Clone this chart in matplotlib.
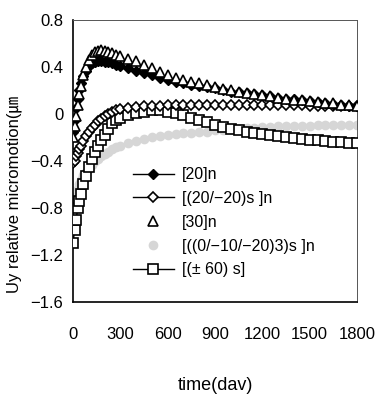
import matplotlib
matplotlib.use("Agg")
import matplotlib.pyplot as plt

plt.rcParams['font.family'] = ['Liberation Sans', 'Noto Sans CJK KR', 'DejaVu Sans']

# time axis (days) shared by every series
days = [0, 10, 20, 30, 40, 50, 65, 80, 100, 120, 140, 160, 180, 200, 225, 250, 275, 300,
        350, 400, 450, 500, 550, 600, 650, 700, 750, 800, 850, 900, 950, 1000,
        1050, 1100, 1150, 1200, 1250, 1300, 1350, 1400, 1450, 1500, 1550, 1600,
        1650, 1700, 1750, 1800]

# [20]n
uy_20 = [-0.15, -0.05, 0.05, 0.13, 0.20, 0.26, 0.32, 0.37, 0.41, 0.43, 0.445, 0.45, 0.45, 0.445,
         0.44, 0.43, 0.42, 0.41, 0.39, 0.37, 0.35, 0.33, 0.31, 0.29, 0.275, 0.26, 0.25, 0.24,
         0.23, 0.22, 0.205, 0.19, 0.185, 0.175, 0.17, 0.16, 0.15, 0.14, 0.13, 0.125, 0.115,
         0.11, 0.10, 0.095, 0.085, 0.08, 0.07, 0.065]

# [(20/-20)s]n
uy_20_m20 = [-0.42, -0.40, -0.36, -0.33, -0.30, -0.27, -0.23, -0.19, -0.15, -0.12, -0.09, -0.06,
             -0.04, -0.02, 0.0, 0.02, 0.03, 0.04, 0.05, 0.06, 0.065, 0.07, 0.07, 0.075, 0.075,
             0.075, 0.08, 0.08, 0.08, 0.08, 0.08, 0.08, 0.08, 0.08, 0.08, 0.08, 0.075, 0.075,
             0.075, 0.075, 0.075, 0.07, 0.07, 0.07, 0.07, 0.07, 0.07, 0.07]

# [30]n
uy_30 = [-0.20, -0.10, -0.02, 0.08, 0.17, 0.24, 0.33, 0.40, 0.46, 0.50, 0.53, 0.54, 0.545, 0.54,
         0.53, 0.52, 0.50, 0.49, 0.47, 0.45, 0.42, 0.39, 0.355, 0.33, 0.31, 0.29, 0.275, 0.26,
         0.245, 0.23, 0.215, 0.20, 0.19, 0.18, 0.17, 0.16, 0.15, 0.14, 0.13, 0.12, 0.115,
         0.11, 0.10, 0.095, 0.09, 0.08, 0.075, 0.07]

# [((0/-10/-20)3)s]n
uy_0_10_20 = [-0.90, -0.78, -0.70, -0.64, -0.60, -0.56, -0.52, -0.49, -0.46, -0.43, -0.40, -0.38,
              -0.36, -0.34, -0.32, -0.30, -0.285, -0.27, -0.25, -0.23, -0.21, -0.20, -0.19,
              -0.18, -0.17, -0.165, -0.16, -0.155, -0.15, -0.14, -0.135, -0.13, -0.125, -0.12,
              -0.115, -0.11, -0.11, -0.105, -0.105, -0.10, -0.10, -0.10, -0.095, -0.095, -0.09,
              -0.09, -0.09, -0.09]

# [(+-60)s]
uy_60 = [-1.10, -0.99, -0.90, -0.80, -0.74, -0.68, -0.60, -0.53, -0.45, -0.38, -0.32, -0.27,
         -0.22, -0.18, -0.13, -0.08, -0.05, -0.03, -0.01, 0.01, 0.02, 0.03, 0.03, 0.02, 0.01,
         -0.01, -0.03, -0.05, -0.07, -0.09, -0.11, -0.13, -0.14, -0.15, -0.16, -0.17, -0.18,
         -0.19, -0.20, -0.205, -0.21, -0.22, -0.225, -0.23, -0.235, -0.24, -0.245, -0.25]

x_ticks = [0, 300, 600, 900, 1200, 1500, 1800]
y_ticks = [-1.6, -1.2, -0.8, -0.4, 0, 0.4, 0.8]
y_tick_labels = ['−1.6', '−1.2', '−0.8', '−0.4', '0', '0.4', '0.8']

fig = plt.figure(figsize=(3.77, 3.96), dpi=100)
ax = fig.add_axes([0.1936, 0.2374, 0.7535, 0.7121])

ax.plot(days, uy_0_10_20, linestyle='none', marker='o', ms=7, mfc='#d6d6d6', mec='#d6d6d6',
        mew=0, label='[((0/−10/−20)3)s ]n', zorder=2)
ax.plot(days, uy_60, color='black', lw=1, marker='s', ms=7, mfc='white', mec='black',
        mew=1.2, label='[(± 60) s]', zorder=3)
ax.plot(days, uy_20_m20, color='black', lw=1, marker='D', ms=5.5, mfc='white', mec='black',
        mew=1.2, label='[(20/−20)s ]n', zorder=4)
ax.plot(days, uy_20, color='black', lw=1, marker='D', ms=5, mfc='black', mec='black',
        label='[20]n', zorder=5)
ax.plot(days, uy_30, linestyle='none', marker='^', ms=7, mfc='white', mec='black',
        mew=1.2, label='[30]n', zorder=6)

ax.set_xlim(0, 1800)
ax.set_ylim(-1.6, 0.8)
ax.set_xticks(x_ticks)
ax.set_yticks(y_ticks)
ax.set_yticklabels(y_tick_labels)
ax.tick_params(axis='both', length=0, labelsize=12)
ax.tick_params(axis='x', pad=18)
ax.tick_params(axis='y', pad=7)

for side in ['left', 'bottom']:
    ax.spines[side].set_linewidth(1.2)
for side in ['top', 'right']:
    ax.spines[side].set_linewidth(0.7)
    ax.spines[side].set_color('#555555')

ax.set_xlabel('time(dav)', fontsize=13, labelpad=25)
ax.set_ylabel('Uy relative micromotion(㎛', fontsize=12)
ax.yaxis.set_label_coords(-0.18, 0.38)

handles, labels = ax.get_legend_handles_labels()
order = [3, 2, 4, 0, 1]
ax.legend([handles[i] for i in order], [labels[i] for i in order],
          loc='upper left', bbox_to_anchor=(0.21, 0.478), frameon=False,
          fontsize=11.5, handlelength=2.6, handletextpad=0.5, labelspacing=0.55,
          borderaxespad=0, borderpad=0)

fig.savefig('out.png', dpi=100)
